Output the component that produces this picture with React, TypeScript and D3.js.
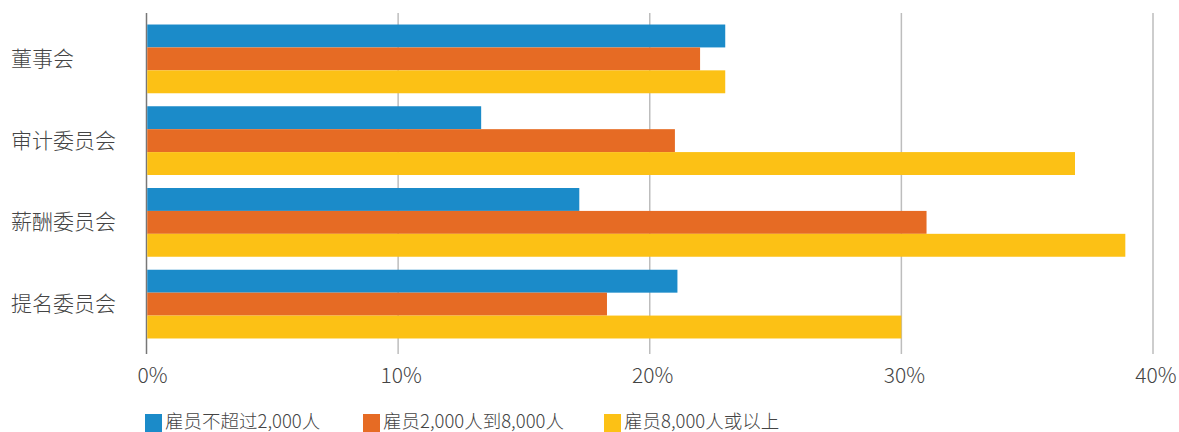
import React from "react";
import * as d3 from "d3";

const categories = ["董事会", "审计委员会", "薪酬委员会", "提名委员会"];
const seriesNames = ["雇员不超过2,000人", "雇员2,000人到8,000人", "雇员8,000人或以上"];
const small = [23.0, 13.3, 17.2, 21.1];
const medium = [22.0, 21.0, 31.0, 18.3];
const large = [23.0, 36.9, 38.9, 30.0];
const ticks = [0, 10, 20, 30, 40];
const colors = ["#1b8bc9", "#e66b24", "#fcc115"];

const W = 1179;
const H = 432;
const FONT = "'Noto Sans CJK SC', 'Noto Sans', sans-serif";

export default function App() {
  const series = [small, medium, large];
  const x = d3.scaleLinear().domain([0, 40]).range([146.5, 1153]);
  const y = d3
    .scaleBand<string>()
    .domain(categories)
    .range([12.5, 350.5])
    .paddingInner(0.159)
    .paddingOuter(0.147);
  const inner = d3
    .scaleBand<number>()
    .domain([0, 1, 2])
    .range([0, y.bandwidth()]);

  const legendX = [145, 363, 604];

  return (
    <svg
      width={W}
      height={H}
      style={{ position: "absolute", left: 0, top: 0, fontFamily: FONT }}
    >
      <rect width={W} height={H} fill="#fff" />
      {ticks.map((t) => (
        <line
          key={t}
          x1={x(t)}
          x2={x(t)}
          y1={13}
          y2={354}
          stroke={t === 0 ? "#777" : "#bdbdbd"}
          strokeWidth={1.5}
        />
      ))}
      {categories.map((c, ci) => (
        <g key={c}>
          {series.map((s, si) => (
            <rect
              key={si}
              x={x(0) + 0.75}
              y={(y(c) as number) + (inner(si) as number)}
              width={x(s[ci]) - x(0) - 0.75}
              height={inner.bandwidth()}
              fill={colors[si]}
            />
          ))}
          <text
            x={11}
            y={(y(c) as number) + y.bandwidth() / 2 - 2}
            dominantBaseline="central"
            fontSize={21}
            fill="#444"
            fontWeight={300}
          >
            {c}
          </text>
        </g>
      ))}
      {ticks.map((t) => (
        <text
          key={t}
          x={x(t) + (t === 0 ? 6 : 3)}
          y={374}
          textAnchor="middle"
          dominantBaseline="central"
          fontSize={21}
          fill="#444"
          fontWeight={300}
        >
          {t}%
        </text>
      ))}
      {seriesNames.map((n, i) => (
        <g key={n}>
          <rect x={legendX[i]} y={414} width={17} height={18} fill={colors[i]} />
          <text
            x={legendX[i] + 20}
            y={420}
            dominantBaseline="central"
            fontSize={18.5}
            fill="#444"
            fontWeight={300}
          >
            {n}
          </text>
        </g>
      ))}
    </svg>
  );
}
